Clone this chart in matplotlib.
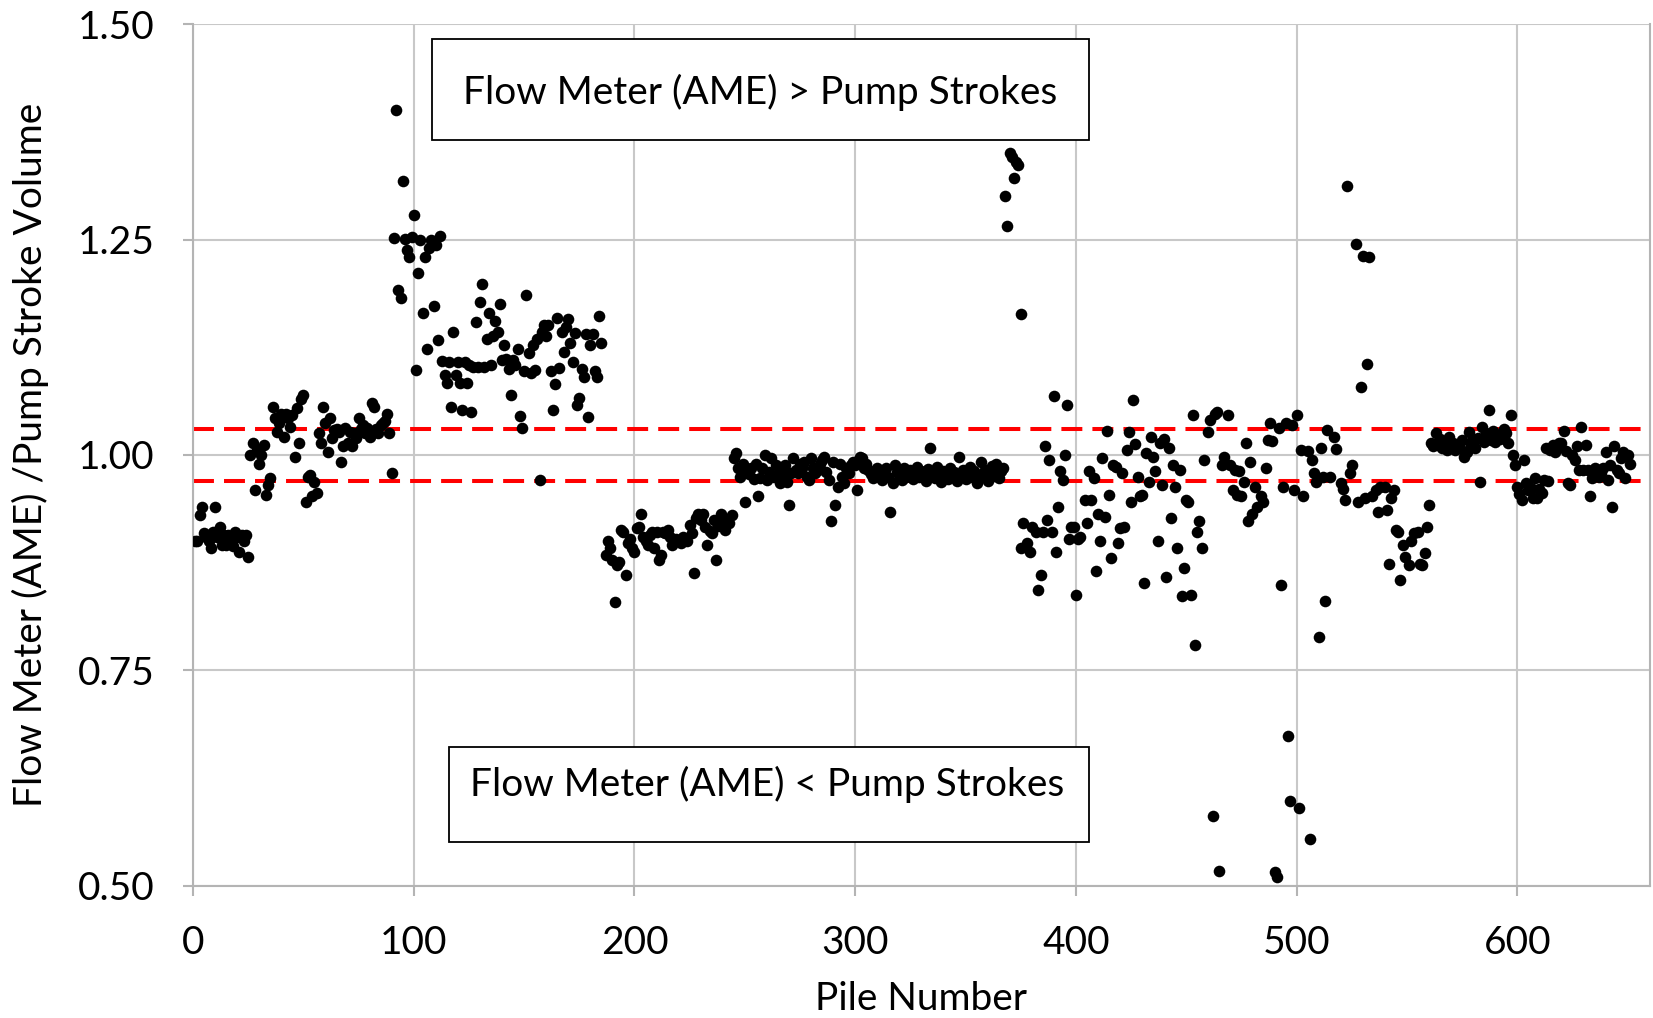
import numpy as np
import matplotlib
matplotlib.use("Agg")
import matplotlib.pyplot as plt
from matplotlib.patches import Rectangle
from matplotlib.ticker import FormatStrFormatter

plt.rcParams['font.family'] = ['Lato', 'DejaVu Sans']

start_a = 1
ratio_a = [0.900, 0.900, 0.930, 0.940, 0.909, 0.905, 0.900, 0.892, 0.911, 0.940,
           0.905, 0.917, 0.896, 0.907, 0.896, 0.907, 0.900, 0.894, 0.911, 0.905,
           0.888, 0.907, 0.900, 0.907, 0.882]

start_b = 26
ratio_b = [1.000, 1.014, 0.959, 1.006, 0.990, 1.000, 1.012, 0.954, 0.965, 0.973,
           1.056, 1.043, 1.027, 1.037, 1.048, 1.021, 1.048, 1.043, 1.033, 1.046,
           0.998, 1.054, 1.014, 1.065, 1.070, 0.946, 0.975, 0.977, 0.952, 0.969,
           0.956, 1.025,
           1.014, 1.056, 1.037, 1.004, 1.043, 1.020, 1.029, 1.030, 1.027, 0.992,
           1.010, 1.031, 1.014, 1.027, 1.010, 1.025, 1.020, 1.043, 1.030, 1.035,
           1.025, 1.031, 1.021, 1.060, 1.056, 1.030, 1.025, 1.035, 1.037, 1.040,
           1.048, 1.025, 0.979]

start_c = 91
ratio_c = [1.252, 1.400, 1.191, 1.182, 1.318, 1.251, 1.238, 1.230, 1.253, 1.278,
           1.099, 1.211, 1.249, 1.165, 1.230, 1.123, 1.240, 1.250, 1.173, 1.244,
           1.133, 1.254,
           1.109, 1.093, 1.084, 1.108, 1.056, 1.143, 1.093, 1.108, 1.083, 1.052,
           1.108, 1.084, 1.104, 1.050, 1.102, 1.154, 1.102, 1.177, 1.198, 1.102,
           1.135, 1.165, 1.104, 1.138, 1.155, 1.143, 1.175, 1.110, 1.128, 1.111,
           1.100, 1.070, 1.110, 1.104, 1.123, 1.045, 1.031, 1.097, 1.186, 1.118,
           1.095, 1.128, 1.099, 1.135, 0.971, 1.143, 1.151, 1.138, 1.151, 1.097,
           1.052, 1.082, 1.159, 1.101, 1.143, 1.120, 1.149, 1.158, 1.130, 1.108,
           1.141, 1.058, 1.066, 1.100, 1.090, 1.140, 1.044, 1.128, 1.140, 1.097,
           1.090, 1.161, 1.130]

start_d = 187
ratio_d = [0.884, 0.900, 0.892, 0.878, 0.830, 0.872, 0.876, 0.913, 0.911, 0.861,
           0.898, 0.903, 0.892, 0.888, 0.915, 0.917, 0.932, 0.905, 0.900, 0.895,
           0.907, 0.911, 0.892, 0.911, 0.878, 0.884, 0.911, 0.909, 0.913, 0.905,
           0.896, 0.900, 0.902, 0.900, 0.898, 0.905, 0.903, 0.900, 0.919, 0.910,
           0.863, 0.927, 0.932, 0.925, 0.932, 0.917, 0.896, 0.912, 0.909, 0.925,
           0.878, 0.918, 0.932, 0.921, 0.913, 0.925, 0.921, 0.930]

start_e = 245
ratio_e = [0.996, 1.002, 0.985, 0.975, 0.990, 0.946, 0.981, 0.978, 0.985, 0.972,
           0.990, 0.952, 0.973, 0.985, 1.000, 0.971, 0.980, 0.996, 0.975, 0.988,
           0.978, 0.967, 0.979, 0.988, 0.969, 0.942, 0.979, 0.996, 0.983, 0.979,
           0.990, 0.985, 0.992, 0.975, 0.971, 0.996, 0.985, 0.979, 0.983, 0.990,
           0.994, 0.998, 0.980, 0.971, 0.923, 0.992, 0.942, 0.963, 0.990, 0.975,
           0.967, 0.985, 0.979, 0.988, 0.992, 0.988, 0.959, 0.998, 0.996, 0.985,
           0.990, 0.983, 0.978, 0.973, 0.981, 0.985, 0.979, 0.971, 0.976, 0.985,
           0.975, 0.934, 0.967, 0.988, 0.980, 0.977, 0.971, 0.985, 0.975, 0.979,
           0.983, 0.972, 0.978, 0.986, 0.974, 0.981, 0.977, 0.970, 0.984, 1.008,
           0.979, 0.973, 0.986, 0.976, 0.969, 0.982, 0.978, 0.972, 0.985, 0.975,
           0.980, 0.970, 0.998, 0.976, 0.983, 0.972, 0.979, 0.986, 0.974, 0.981,
           0.968, 0.977, 0.992, 0.975, 0.983, 0.970, 0.979, 0.987, 0.976, 0.990,
           0.973, 0.982, 0.985,
           1.300, 1.266, 1.350, 1.346, 1.321, 1.340, 1.336, 1.163]

# scattered stretch, piles listed one by one
piles_f = [375, 376, 378, 379, 380, 382, 383, 384, 385, 386,
           387, 388, 389, 390, 391, 392, 393, 394, 395, 396,
           397, 398, 399, 400, 401, 402, 404, 405, 406, 407,
           408, 409, 410, 411, 412, 413, 414, 415, 416, 417,
           418, 419, 420, 421, 422, 423, 424, 425, 426, 427,
           428, 429, 430, 431, 432, 433, 434, 435, 436, 437,
           438, 439, 440, 441, 442, 443, 444, 445, 446, 447,
           448, 449, 450, 451, 452, 453, 454, 455, 456, 457,
           458, 460, 461, 462, 463, 464, 465, 466, 467, 469,
           470, 471, 472, 473, 474, 475, 476, 477, 478, 479,
           480, 481, 482, 484, 485, 486, 487, 488, 489, 490,
           491, 492, 493, 494, 495, 496, 497, 498, 499, 500,
           501, 502, 503, 505, 506, 507, 508, 509, 510, 511,
           512, 513, 514, 515, 517, 518, 520, 521, 522, 523,
           524, 525, 527, 528, 529, 530, 531, 532, 533, 534,
           536, 537, 538, 540, 541, 542, 543, 544, 545, 546,
           547, 548, 549, 551, 552, 553, 555, 556, 557, 558,
           559, 560]
ratio_f = [0.892, 0.921, 0.898, 0.888, 0.917, 0.911, 0.843, 0.861, 0.911, 1.010,
           0.925, 0.994, 0.911, 1.068, 0.888, 0.940, 0.981, 0.971, 1.000, 1.058,
           0.902, 0.917, 0.917, 0.838, 0.903, 0.905, 0.948, 0.921, 0.981, 0.948,
           0.973, 0.865, 0.932, 0.900, 0.996, 0.928, 1.028, 0.954, 0.880, 0.988,
           0.986, 0.898, 0.915, 0.979, 0.917, 1.006, 1.027, 0.946, 1.064, 1.013,
           0.975, 0.952, 0.954, 0.851, 1.002, 0.969, 1.021, 0.998, 0.981, 0.900,
           1.014, 0.965, 1.019, 0.859, 1.008, 0.927, 0.988, 0.963, 0.892, 0.983,
           0.836, 0.869, 0.948, 0.946, 0.838, 1.046, 0.780, 0.911, 0.923, 0.892,
           0.994, 1.027, 1.041, 0.581, 1.048, 1.050, 0.517, 0.988, 0.998, 1.046,
           0.988, 0.959, 0.983, 0.954, 0.981, 0.952, 0.969, 1.014, 0.923, 0.992,
           0.932, 0.963, 0.940, 0.952, 0.946, 0.985, 1.017, 1.037, 1.016, 0.516,
           0.510, 1.031, 0.849, 0.963, 1.037, 0.674, 0.598, 1.035, 0.959, 1.046,
           0.591, 1.006, 0.952, 1.005, 0.554, 0.994, 0.979, 0.969, 0.789, 1.008,
           0.975, 0.831, 1.029, 0.975, 1.021, 1.007, 0.967, 0.961, 0.948, 1.312,
           0.979, 0.988, 1.245, 0.946, 1.079, 1.231, 0.950, 1.106, 1.230, 0.952,
           0.959, 0.934, 0.963, 0.963, 0.936, 0.874, 0.950, 0.959, 0.913, 0.911,
           0.855, 0.896, 0.882, 0.872, 0.900, 0.909, 0.911, 0.874, 0.872, 0.886,
           0.917, 0.942]

start_g = 561
ratio_g = [1.014, 1.010, 1.025, 1.012, 1.019, 1.008, 1.015, 1.006, 1.021, 1.010,
           1.014, 1.006, 1.012, 1.008, 1.017, 0.998, 1.004, 1.027, 1.012, 1.018,
           1.008, 1.020, 0.969, 1.033, 1.015, 1.025, 1.052, 1.017, 1.028, 1.015,
           1.023, 1.018, 1.021, 1.030, 1.025, 1.014, 1.046, 1.000,
           0.988, 0.963, 0.955, 0.948, 0.994, 0.967, 0.959, 0.962, 0.950, 0.973,
           0.950, 0.960, 0.956, 0.971, 1.008, 0.970, 1.006, 1.012, 1.004, 1.010,
           1.014, 1.014, 1.028, 1.005, 0.967, 0.965, 1.000, 0.994, 1.010, 0.983,
           1.033, 0.983, 1.012, 0.983, 0.952, 0.973, 0.985, 0.983, 0.975, 0.979,
           0.985, 1.004, 0.971, 0.988, 0.940, 1.010, 0.983, 0.979, 0.996, 1.004,
           0.973, 1.000, 0.990]

upper_limit = 1.03
lower_limit = 0.97

x_ticks = [0, 100, 200, 300, 400, 500, 600]
y_ticks = [0.50, 0.75, 1.00, 1.25, 1.50]

piles = []
ratio = []
for start, vals in [(start_a, ratio_a), (start_b, ratio_b), (start_c, ratio_c),
                    (start_d, ratio_d), (start_e, ratio_e), (start_g, ratio_g)]:
    piles.extend(range(start, start + len(vals)))
    ratio.extend(vals)
piles.extend(piles_f)
ratio.extend(ratio_f)

fig = plt.figure(figsize=(16.53, 10.18), dpi=100)
ax = fig.add_axes([0.1168, 0.1297, 0.8812, 0.8467])

ax.scatter(piles, ratio, s=70, color='black', linewidths=0, zorder=3)

for lim in (upper_limit, lower_limit):
    ax.axhline(lim, color='#ff0000', lw=2.9, dashes=(5.2, 2.5), zorder=2)

ax.set_xlim(0, 660)
ax.set_ylim(0.5, 1.5)
ax.set_xticks(x_ticks)
ax.set_yticks(y_ticks)
ax.yaxis.set_major_formatter(FormatStrFormatter('%.2f'))
ax.grid(True, color='#c8c8c8', lw=1.5, zorder=0)
ax.set_axisbelow(True)

ax.spines['top'].set_visible(False)
for side in ['left', 'bottom', 'right']:
    ax.spines[side].set_color('#b4b4b4')
    ax.spines[side].set_linewidth(1.5)
ax.tick_params(axis='both', labelsize=28, color='#b4b4b4', length=7, width=1.5,
               pad=21)

ax.set_xlabel('Pile Number', fontsize=28, va='center')
ax.xaxis.set_label_coords(0.5, -0.131)
ax.set_ylabel('Flow Meter (AME) /Pump Stroke Volume', fontsize=28, va='center')
ax.yaxis.set_label_coords(-0.112, 0.5)

# annotation boxes (axes fractions)
ax.add_patch(Rectangle((0.164, 0.865), 0.451, 0.118, transform=ax.transAxes,
                       facecolor='white', edgecolor='black', lw=1.3, zorder=5))
ax.text(0.389, 0.921, 'Flow Meter (AME) > Pump Strokes', transform=ax.transAxes,
        fontsize=28, ha='center', va='center', zorder=6)
ax.add_patch(Rectangle((0.1757, 0.051), 0.4393, 0.110, transform=ax.transAxes,
                       facecolor='white', edgecolor='black', lw=1.3, zorder=5))
ax.text(0.394, 0.118, 'Flow Meter (AME) < Pump Strokes', transform=ax.transAxes,
        fontsize=28, ha='center', va='center', zorder=6)

fig.savefig('out.png', dpi=100)
